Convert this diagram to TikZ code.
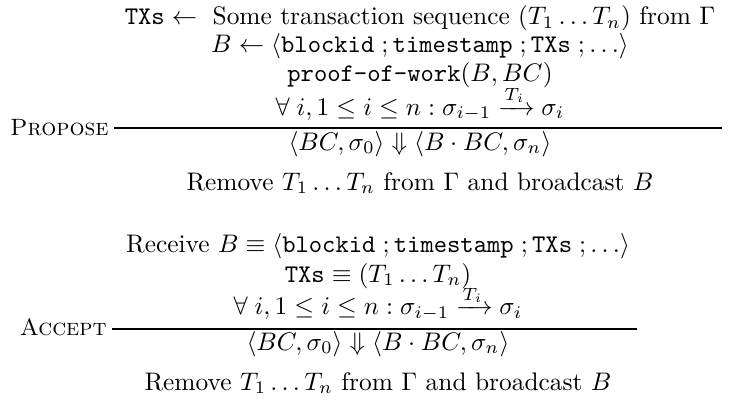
\documentclass[tikz,border=0pt]{standalone}
\usepackage{amsmath,amssymb,graphicx}
\begin{document}
\begin{tikzpicture}[x=0.394pt,y=-0.394pt,
  txt/.style={inner sep=0pt,anchor=base},
  lbl/.style={inner sep=0pt,anchor=base east},
  rulebar/.style={line width=0.4pt}]
\useasboundingbox (0,0) rectangle (743,400);
% Propose rule
\node[txt] (p1) at (420,25) {$\texttt{TXs}\leftarrow\ \mbox{Some transaction sequence }(T_1\ldots T_n)\mbox{ from }\Gamma$};
\node[txt] (p2) at (420,53) {$B\leftarrow\langle\texttt{blockid}\;;\texttt{timestamp}\;;\texttt{TXs}\;;\ldots\rangle$};
\node[txt] (p3) at (420,82) {$\texttt{proof-of-work}(B,BC)$};
\node[txt] (p4) at (420,115) {$\forall\;i,1\leq i\leq n:\sigma_{i-1}\xrightarrow{T_i}\sigma_i$};
\coordinate (r1a) at (114,128);
\coordinate (r1b) at (722,128);
\draw[rulebar] (r1a) -- (r1b);
\node[lbl] (pl) at (109,135) {\scalebox{0.93}{\textsc{Propose}}};
\node[txt] (pc) at (420,150) {$\langle BC,\sigma_0\rangle\Downarrow\langle B\cdot BC,\sigma_n\rangle$};
\node[txt] (pr) at (420,190) {Remove $T_1\ldots T_n$ from $\Gamma$ and broadcast $B$};
% Accept rule
\node[txt] (a1) at (378,253) {Receive $B\equiv\langle\texttt{blockid}\;;\texttt{timestamp}\;;\texttt{TXs}\;;\ldots\rangle$};
\node[txt] (a2) at (378,282) {$\texttt{TXs}\equiv(T_1\ldots T_n)$};
\node[txt] (a3) at (378,315) {$\forall\;i,1\leq i\leq n:\sigma_{i-1}\xrightarrow{T_i}\sigma_i$};
\coordinate (r2a) at (112,329);
\coordinate (r2b) at (637,329);
\draw[rulebar] (r2a) -- (r2b);
\node[lbl] (al) at (107,335) {\scalebox{0.93}{\textsc{Accept}}};
\node[txt] (ac) at (378,350) {$\langle BC,\sigma_0\rangle\Downarrow\langle B\cdot BC,\sigma_n\rangle$};
\node[txt] (ar) at (378,390) {Remove $T_1\ldots T_n$ from $\Gamma$ and broadcast $B$};
\end{tikzpicture}
\end{document}
